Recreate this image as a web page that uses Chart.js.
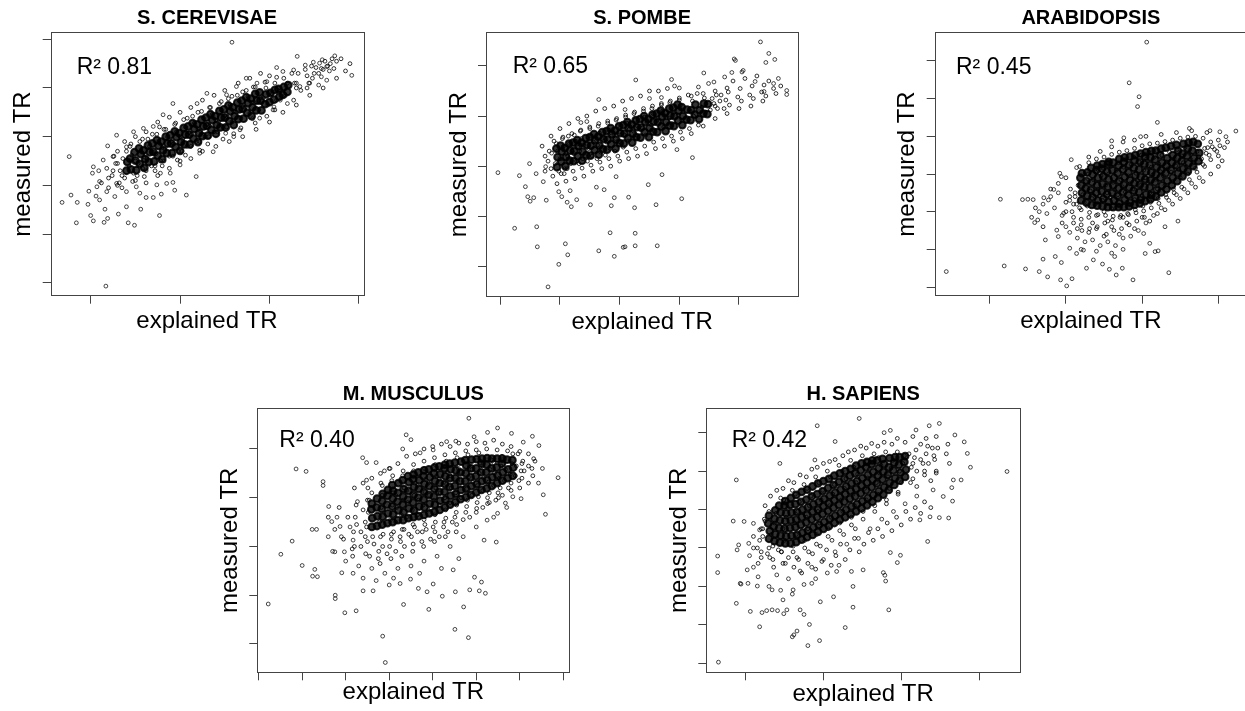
<!DOCTYPE html>
<html>
<head>
<meta charset="utf-8">
<script src="https://cdn.jsdelivr.net/npm/chart.js@4.4.1/dist/chart.umd.min.js"></script>
<style>
html,body{margin:0;padding:0;background:#fff;width:1245px;height:711px;overflow:hidden;position:relative}
canvas{position:absolute}
</style>
</head>
<body>
<canvas id="c1"></canvas>
<canvas id="c2"></canvas>
<canvas id="c3"></canvas>
<canvas id="c4"></canvas>
<canvas id="c5"></canvas>
<script>
const FONT = '"Liberation Sans", Arial, Helvetica, sans-serif';

// ---- panel titles and R² labels ----
const panelTitles = ['S. CEREVISAE', 'S. POMBE', 'ARABIDOPSIS', 'M. MUSCULUS', 'H. SAPIENS'];
const r2Labels = ['R² 0.81', 'R² 0.65', 'R² 0.45', 'R² 0.40', 'R² 0.42'];
const xAxisTitle = 'explained TR';
const yAxisTitle = 'measured TR';

// ---- tick values (unlabelled ticks, in tick units) ----
const cerevisaeXTicks = [0, 1, 2, 3];
const cerevisaeYTicks = [0, 1, 2, 3, 4, 5];
const pombeXTicks = [0, 1, 2, 3, 4];
const pombeYTicks = [0, 1, 2, 3, 4];
const arabidopsisXTicks = [0, 1, 2, 3];
const arabidopsisYTicks = [0, 1, 2, 3, 4, 5, 6];
const musculusXTicks = [0, 1, 2, 3, 4, 5, 6, 7];
const musculusYTicks = [0, 1, 2, 3, 4];
const sapiensXTicks = [0, 1, 2, 3];
const sapiensYTicks = [0, 1, 2, 3, 4, 5, 6];

// ---- S. CEREVISAE points [explained, measured] ----
const cerevisaeDense = [
[0.40,2.30],[0.41,2.48],[0.45,2.33],[0.44,2.55],[0.51,2.31],[0.50,2.51],[0.49,2.68],[0.55,2.44],[0.56,2.64],[0.54,2.76],
[0.60,2.36],[0.61,2.54],[0.59,2.72],[0.65,2.48],[0.66,2.68],[0.64,2.82],[0.71,2.49],[0.70,2.69],[0.69,2.86],[0.75,2.61],
[0.76,2.81],[0.74,2.93],[0.80,2.54],[0.81,2.72],[0.79,2.90],[0.85,2.66],[0.86,2.86],[0.84,3.00],[0.91,2.66],[0.90,2.86],
[0.89,3.03],[0.95,2.79],[0.96,2.99],[0.94,3.11],[1.00,2.71],[1.01,2.89],[0.99,3.07],[1.05,2.84],[1.06,3.04],[1.04,3.18],
[1.11,2.84],[1.10,3.04],[1.09,3.21],[1.15,2.96],[1.16,3.16],[1.14,3.28],[1.20,2.89],[1.21,3.07],[1.19,3.25],[1.25,3.01],
[1.26,3.21],[1.24,3.35],[1.31,3.02],[1.30,3.22],[1.29,3.39],[1.35,3.14],[1.36,3.34],[1.34,3.46],[1.40,3.06],[1.41,3.24],
[1.39,3.42],[1.45,3.19],[1.46,3.39],[1.44,3.53],[1.51,3.19],[1.50,3.39],[1.49,3.56],[1.55,3.32],[1.56,3.52],[1.54,3.64],
[1.60,3.24],[1.61,3.42],[1.59,3.60],[1.65,3.36],[1.66,3.56],[1.64,3.70],[1.71,3.37],[1.70,3.57],[1.69,3.74],[1.75,3.49],
[1.76,3.69],[1.74,3.81],[1.80,3.42],[1.81,3.60],[1.79,3.78],[1.85,3.54],[1.86,3.74],[1.84,3.88],[1.91,3.54],[1.90,3.74],
[1.89,3.91],[1.95,3.67],[1.96,3.87],[2.00,3.71],[2.01,3.90],[2.05,3.76],[2.06,3.96],[2.11,3.82],[2.10,3.98],[2.15,3.86],
[2.16,4.02],[2.20,3.92],[2.21,4.06]
];
const cerevisaeCore = [
[0.12,2.05],[0.18,2.35],[0.2,1.95],[0.24,2.2],[0.28,2.45],[0.3,2.0],[0.26,2.6],[0.33,2.3],[0.36,2.55],[0.38,2.15],[0.4,2.7],
[0.43,2.4],[0.46,2.62],[0.48,2.25],[0.44,2.8],[0.5,2.5],[0.53,2.45],[0.56,2.7],[0.58,2.35],[0.55,2.9],[0.6,2.58],[0.52,2.2],
[0.63,2.55],[0.66,2.8],[0.68,2.4],[0.64,2.95],[0.7,2.68],[0.62,2.3],[0.73,2.65],[0.76,2.9],[0.78,2.5],[0.74,3.05],[0.8,2.78],[0.72,2.4],[0.77,3.2],
[0.83,2.75],[0.86,3.0],[0.88,2.6],[0.84,3.15],[0.9,2.9],[0.82,2.5],[0.93,2.85],[0.96,3.1],[0.98,2.7],[0.94,3.25],[1.0,3.0],[0.92,2.6],
[1.03,2.95],[1.06,3.2],[1.08,2.8],[1.04,3.35],[1.1,3.08],[1.02,2.7],[1.13,3.05],[1.16,3.28],[1.18,2.9],[1.14,3.42],[1.2,3.15],[1.12,2.8],
[1.23,3.12],[1.26,3.38],[1.28,3.0],[1.24,3.52],[1.3,3.25],[1.22,2.9],[1.33,3.22],[1.36,3.46],[1.38,3.1],[1.34,3.6],[1.4,3.34],[1.32,3.0],
[1.43,3.3],[1.46,3.55],[1.48,3.2],[1.44,3.68],[1.5,3.43],[1.42,3.1],[1.53,3.4],[1.56,3.65],[1.58,3.3],[1.54,3.78],[1.6,3.52],[1.52,3.2],
[1.63,3.5],[1.66,3.74],[1.68,3.38],[1.64,3.85],[1.7,3.62],[1.73,3.6],[1.76,3.82],[1.78,3.48],[1.74,3.95],[1.8,3.7],
[1.83,3.7],[1.86,3.9],[1.88,3.55],[1.84,4.02],[1.9,3.8],[1.93,3.8],[1.96,4.0],[1.98,3.65],[2.0,3.9],
[2.03,3.88],[2.06,4.1],[2.08,3.75],[2.1,4.0],[2.13,3.95],[2.16,4.2],[2.18,3.85],[2.2,4.1],[2.28,4.1],[2.32,4.3],[2.3,4.0],
[2.42,4.25],[2.47,4.45],[2.5,4.3],[2.44,4.1],[2.58,4.4],[2.62,4.55],[2.65,4.45],[2.7,4.6],[2.72,4.4],
[0.45,2.85],[0.47,2.08],[0.58,2.95],[0.6,2.18],[0.69,3.05],[0.72,2.3],[0.82,3.15],[0.8,2.4],[0.95,3.28],[0.97,2.52],
[1.08,3.38],[1.06,2.62],[1.2,3.5],[1.22,2.72],[1.33,3.6],[1.31,2.85],[1.46,3.72],[1.48,2.95],[1.58,3.83],[1.6,3.06],
[1.7,3.92],[1.68,3.18],[1.82,4.02],[1.84,3.28],[1.95,4.12],[1.97,3.42],[2.08,4.22],[2.06,3.55],[2.25,4.3],[2.27,3.75],
[2.3,4.1],[2.35,3.95],[2.4,4.38],[2.42,4.0],[2.48,4.2],[2.55,4.3],[2.6,4.38],[2.68,4.5],[2.75,4.55],[2.52,4.42],
[0.25,2.3],[0.3,2.45],[0.35,2.2],[0.2,2.15],[0.32,2.05]
];
const cerevisaeMid = [
[0.3,2.7],[0.38,2.9],[0.5,3.0],[0.62,3.1],[0.75,3.3],[0.88,3.4],[1.0,3.5],[1.12,3.6],[1.25,3.75],[1.38,3.85],[1.5,3.95],
[1.65,4.1],[1.78,4.2],[1.9,4.3],[2.0,4.25],[0.35,1.95],[0.5,2.1],[0.62,2.05],[0.75,2.2],[0.88,2.35],[1.0,2.5],[1.12,2.55],
[1.25,2.7],[1.4,2.8],[1.55,2.9],[1.7,3.0],[1.85,3.15],[2.0,3.3],[2.15,3.5],[2.3,3.65],[2.45,3.85],[2.6,4.0],[2.75,4.2],
[2.85,4.35],[2.8,4.6],[2.9,4.5]
];
const cerevisaeOut = [
[1.58,4.94],[0.17,-0.07],[-0.24,2.59],[-0.32,1.65],[-0.22,1.80],[-0.15,1.65],[-0.16,1.23],[-0.03,1.61],[-0.02,1.88],[0.0,1.38],
[0.03,1.27],[0.15,1.24],[0.19,1.32],[0.16,1.51],[0.31,1.41],[0.42,1.23],[0.49,1.18],[0.40,1.56],[0.56,1.51],[0.77,1.38],
[0.06,1.78],[0.62,1.75],[0.70,1.75],[0.79,1.82],[0.94,1.90],[1.07,1.80],[1.00,2.42],[1.18,2.18],[0.92,2.06],[0.02,2.25],
[0.09,2.30],[0.10,2.08],[2.92,4.26],[2.73,4.66],[2.31,4.65],[2.67,4.35],[2.64,4.16],[2.55,4.06],[2.05,3.61],[2.20,3.68],
[1.81,3.37],[1.51,3.07],[0.29,3.03],[0.19,2.81],[2.08,4.42],[2.49,4.53],[2.59,4.58],
[0.07,1.97],[0.18,1.87],[0.29,2.04],[0.40,1.87],[0.51,1.97],[0.27,1.77],[0.10,1.70],[0.55,1.84],[0.74,2.01],[0.85,2.04],
[0.78,2.25],[0.89,2.25],[1.22,2.66],[1.37,2.69],[1.60,3.0],[1.67,3.14],[1.89,3.38],[2.04,3.55],[2.12,3.75],[2.34,4.03],
[2.45,4.10],[2.58,4.23],[2.64,4.44],[2.56,4.51],[2.40,4.47],[2.27,4.37],[2.15,4.34],[1.97,4.13],[1.86,4.10],[1.74,4.20],
[1.63,4.03],[1.52,3.86],[1.30,3.89],[1.19,3.68],[0.92,3.68],[0.81,3.45],[0.70,3.21],[0.59,3.17],[0.48,3.10],[0.40,2.79],
[0.25,2.59],[0.14,2.52],[0.03,2.38]
];

// ---- S. POMBE points ----
const pombeDense = [
[0.95,1.98],[0.96,2.18],[0.94,2.35],[1.02,2.09],[1.03,2.29],[1.01,2.41],[1.09,2.00],[1.10,2.18],[1.08,2.36],[1.16,2.11],
[1.17,2.31],[1.15,2.45],[1.23,2.10],[1.24,2.30],[1.22,2.47],[1.30,2.20],[1.31,2.40],[1.29,2.52],[1.37,2.11],[1.38,2.29],
[1.36,2.47],[1.44,2.22],[1.45,2.42],[1.43,2.56],[1.51,2.21],[1.52,2.41],[1.50,2.58],[1.58,2.32],[1.59,2.52],[1.57,2.64],
[1.65,2.23],[1.66,2.41],[1.64,2.59],[1.72,2.34],[1.73,2.54],[1.71,2.68],[1.79,2.33],[1.80,2.53],[1.78,2.70],[1.86,2.44],
[1.87,2.64],[1.85,2.76],[1.93,2.35],[1.94,2.53],[1.92,2.71],[2.00,2.46],[2.01,2.66],[1.99,2.80],[2.07,2.45],[2.08,2.65],
[2.06,2.82],[2.14,2.56],[2.15,2.76],[2.13,2.88],[2.21,2.47],[2.22,2.65],[2.20,2.83],[2.28,2.58],[2.29,2.78],[2.27,2.92],
[2.35,2.57],[2.36,2.77],[2.34,2.94],[2.42,2.68],[2.43,2.88],[2.41,3.00],[2.49,2.58],[2.50,2.76],[2.48,2.94],[2.56,2.69],
[2.57,2.89],[2.55,3.03],[2.63,2.68],[2.64,2.88],[2.62,3.05],[2.70,2.79],[2.71,2.99],[2.69,3.11],[2.77,2.70],[2.78,2.88],
[2.76,3.06],[2.84,2.81],[2.85,3.01],[2.83,3.15],[2.91,2.80],[2.92,3.00],[2.90,3.17],[2.98,2.91],[2.99,3.11],[2.97,3.23],
[3.05,2.82],[3.06,3.00],[3.04,3.18],[3.12,2.93],[3.13,3.13],[3.19,2.92],[3.20,3.12],[3.26,3.03],[3.27,3.23],[3.33,2.94],
[3.34,3.12],[3.40,3.05],[3.41,3.25],[3.47,3.04],[3.48,3.24]
];
const pombeCore = [
[0.92,2.05],[0.96,2.3],[0.98,1.9],[0.94,2.45],[1.0,2.15],[1.03,2.15],[1.06,2.4],[1.08,1.95],[1.04,2.55],[1.1,2.25],[1.02,1.85],
[1.13,2.2],[1.16,2.45],[1.18,2.05],[1.14,2.6],[1.2,2.3],[1.12,1.95],[1.23,2.25],[1.26,2.5],[1.28,2.1],[1.24,2.62],[1.3,2.38],
[1.33,2.3],[1.36,2.55],[1.38,2.15],[1.34,2.7],[1.4,2.42],[1.32,2.05],[1.48,2.35],[1.52,2.6],[1.54,2.2],[1.5,2.75],[1.56,2.48],[1.46,2.1],
[1.63,2.42],[1.66,2.66],[1.68,2.28],[1.64,2.8],[1.7,2.55],[1.62,2.15],[1.78,2.48],[1.82,2.72],[1.84,2.35],[1.8,2.86],[1.86,2.6],[1.76,2.22],
[1.93,2.55],[1.96,2.8],[1.98,2.42],[1.94,2.92],[2.0,2.68],[1.92,2.3],[2.08,2.62],[2.12,2.86],[2.14,2.5],[2.1,2.98],[2.16,2.74],[2.06,2.38],
[2.23,2.7],[2.26,2.92],[2.28,2.56],[2.24,3.05],[2.3,2.8],[2.38,2.76],[2.42,2.98],[2.44,2.62],[2.4,3.1],[2.46,2.88],
[2.53,2.82],[2.56,3.05],[2.58,2.7],[2.54,3.15],[2.6,2.94],[2.68,2.9],[2.72,3.1],[2.74,2.78],[2.7,3.22],[2.76,3.0],
[2.83,2.96],[2.86,3.16],[2.88,2.85],[2.84,3.27],[2.9,3.06],[2.98,3.02],[3.02,3.22],[3.04,2.92],[3.0,3.32],[3.06,3.12],
[3.18,3.1],[3.22,3.3],[3.24,3.0],[3.2,3.4],[3.38,3.18],[3.42,3.36],[3.44,3.08],[3.4,3.45],[3.58,3.25],[3.62,3.42],[3.64,3.15],[3.6,3.5],
[3.78,3.32],[3.82,3.48],[3.84,3.22],[3.8,3.56],[3.98,3.38],[4.02,3.55],[4.04,3.3],[4.18,3.42],[4.22,3.6],[4.24,3.35],
[4.38,3.48],[4.42,3.62],[4.45,3.4],[4.58,3.55],[4.62,3.45],
[0.9,2.5],[0.88,1.8],[1.05,2.58],[1.07,1.85],[1.2,2.65],[1.22,1.9],[1.35,2.72],[1.37,1.96],[1.5,2.78],[1.52,2.02],
[1.65,2.85],[1.67,2.08],[1.8,2.9],[1.82,2.15],[1.95,2.95],[1.97,2.2],[2.1,3.02],[2.12,2.28],[2.25,3.08],[2.27,2.35],
[2.4,3.15],[2.42,2.4],[2.55,3.2],[2.57,2.48],[2.7,3.25],[2.72,2.55],[2.85,3.3],[2.87,2.6],[3.0,3.36],[3.02,2.68],
[3.15,3.42],[3.17,2.75],[3.3,3.45],[3.32,2.82],[3.52,3.12],[3.55,3.35],[3.6,3.2],[3.68,3.3],[3.75,3.15],[3.7,3.42],
[0.8,2.1],[0.85,1.95],[0.82,2.3],[0.75,2.2]
];
const pombeMid = [
[0.7,2.4],[0.75,1.9],[0.85,2.6],[1.0,2.75],[1.15,2.85],[1.3,2.95],[1.45,3.0],[1.6,3.1],[1.75,3.15],[1.9,3.2],[2.05,3.3],
[2.2,3.35],[2.35,3.4],[2.5,3.5],[2.65,3.5],[2.8,3.55],[0.95,1.65],[1.1,1.7],[1.25,1.75],[1.4,1.8],[1.55,1.9],[1.7,1.95],
[1.85,2.0],[2.0,2.1],[2.15,2.15],[2.3,2.2],[2.45,2.25],[2.6,2.35],[2.75,2.4],[2.9,2.5],[3.05,2.55],[3.2,2.65],[3.4,2.8],
[3.6,2.95],[3.8,3.05],[4.0,3.15],[4.2,3.2],[4.4,3.3],[3.9,3.7],[4.1,3.75],[4.3,3.8],[4.5,3.7],[4.7,3.6]
];
const pombeOut = [
[4.36,4.48],[4.5,4.25],[4.45,4.07],[4.6,4.13],[3.92,4.14],[3.94,4.11],[3.41,3.86],[2.87,3.73],[2.27,3.72],[1.65,3.33],
[4.66,3.75],[4.58,3.65],[4.8,3.51],[4.8,3.43],[4.42,3.49],[3.76,3.78],[3.49,3.65],[3.22,2.17],[2.96,2.33],[2.71,1.83],
[-0.04,1.87],[0.32,1.81],[0.49,2.05],[0.42,1.59],[0.46,1.39],[0.5,1.3],[0.56,1.37],[0.6,1.85],[0.77,1.32],[0.24,0.76],
[0.61,0.79],[0.62,0.39],[0.98,0.04],[1.09,0.45],[1.13,0.23],[0.8,-0.41],[1.65,0.31],[1.84,0.67],[1.91,0.2],[2.06,0.38],
[2.09,0.39],[2.26,0.66],[2.26,0.41],[2.63,0.41],[2.61,1.23],[2.25,1.17],[1.86,1.21],[1.51,1.23],[1.19,1.19],[1.12,1.28],
[1.28,1.33],[2.15,1.38],[1.74,1.53],[1.91,1.37],[3.04,1.35],[1.61,1.58],[1.94,1.79],[2.48,1.63],[0.98,1.49],[1.03,1.39],
[1.17,1.51],[0.72,1.69],[0.76,1.99],[0.86,2.26],[1.35,2.87],[1.45,2.89],[2.09,3.13],[2.5,3.35],[2.7,3.37],[2.92,3.6],
[3.0,3.56],[3.32,3.58],[3.58,3.68],[4.05,3.88],[4.07,3.91],[4.27,3.69],[3.88,3.87]
];

// ---- ARABIDOPSIS points ----
const arabidopsisDense = [
[1.20,2.30],[1.21,2.50],[1.20,2.70],[1.19,2.90],[1.21,3.02],[1.27,2.24],[1.28,2.42],[1.26,2.62],[1.27,2.82],[1.28,3.04],
[1.34,2.18],[1.35,2.38],[1.33,2.58],[1.34,2.78],[1.35,2.98],[1.33,3.16],[1.41,2.16],[1.42,2.30],[1.40,2.50],[1.41,2.70],
[1.42,2.90],[1.40,3.10],[1.41,3.22],[1.48,2.14],[1.49,2.34],[1.47,2.54],[1.48,2.74],[1.49,2.94],[1.47,3.14],[1.48,3.26],
[1.55,2.12],[1.56,2.26],[1.54,2.46],[1.55,2.66],[1.56,2.86],[1.54,3.06],[1.55,3.26],[1.56,3.32],[1.62,2.12],[1.63,2.30],
[1.61,2.50],[1.62,2.70],[1.63,2.90],[1.61,3.10],[1.62,3.30],[1.69,2.12],[1.70,2.22],[1.68,2.42],[1.69,2.62],[1.70,2.82],
[1.68,3.02],[1.69,3.22],[1.70,3.40],[1.76,2.12],[1.77,2.32],[1.75,2.52],[1.76,2.72],[1.77,2.92],[1.75,3.12],[1.76,3.32],
[1.77,3.44],[1.83,2.14],[1.84,2.24],[1.82,2.44],[1.83,2.64],[1.84,2.84],[1.82,3.04],[1.83,3.24],[1.84,3.46],[1.90,2.18],
[1.91,2.36],[1.89,2.56],[1.90,2.76],[1.91,2.96],[1.89,3.16],[1.90,3.36],[1.91,3.50],[1.97,2.22],[1.98,2.32],[1.96,2.52],
[1.97,2.72],[1.98,2.92],[1.96,3.12],[1.97,3.32],[1.98,3.54],[2.04,2.28],[2.05,2.46],[2.03,2.66],[2.04,2.86],[2.05,3.06],
[2.03,3.26],[2.04,3.46],[2.05,3.58],[2.11,2.33],[2.12,2.44],[2.10,2.64],[2.11,2.84],[2.12,3.04],[2.10,3.24],[2.11,3.44],
[2.12,3.61],[2.18,2.40],[2.19,2.58],[2.17,2.78],[2.18,2.98],[2.19,3.18],[2.17,3.38],[2.18,3.62],[2.25,2.51],[2.26,2.70],
[2.24,2.90],[2.25,3.10],[2.26,3.30],[2.24,3.50],[2.25,3.67],[2.32,2.60],[2.33,2.82],[2.31,3.02],[2.32,3.22],[2.33,3.42],
[2.31,3.70],[2.39,2.70],[2.40,2.90],[2.38,3.10],[2.39,3.30],[2.40,3.50],[2.38,3.74],[2.46,2.81],[2.47,3.02],[2.45,3.22],
[2.46,3.42],[2.47,3.62],[2.45,3.77],[2.53,2.94],[2.54,3.14],[2.52,3.34],[2.53,3.54],[2.54,3.80],[2.60,3.07],[2.61,3.28],
[2.59,3.48],[2.60,3.68],[2.61,3.83],[2.67,3.21],[2.68,3.42],[2.66,3.62],[2.67,3.85],[2.74,3.34],[2.75,3.56],[2.73,3.80]
];
const arabidopsisCore = [
[1.08,2.0],[1.12,2.4],[1.1,1.7],[1.14,2.2],[1.06,2.6],[1.18,2.1],[1.22,2.45],[1.2,1.8],[1.24,2.25],[1.16,2.7],[1.21,1.5],
[1.28,2.15],[1.32,2.55],[1.3,1.85],[1.34,2.35],[1.26,2.8],[1.31,1.55],[1.29,3.0],[1.38,2.2],[1.42,2.6],[1.4,1.9],[1.44,2.42],[1.36,2.85],[1.41,1.6],[1.39,3.05],
[1.48,2.3],[1.52,2.7],[1.5,2.0],[1.54,2.5],[1.46,2.95],[1.51,1.7],[1.49,3.15],[1.53,1.4],[1.58,2.38],[1.62,2.78],[1.6,2.08],[1.64,2.58],[1.56,3.0],[1.61,1.78],[1.59,3.2],[1.63,1.5],
[1.68,2.45],[1.72,2.85],[1.7,2.15],[1.74,2.66],[1.66,3.1],[1.71,1.85],[1.69,3.3],[1.73,1.55],[1.78,2.52],[1.82,2.95],[1.8,2.25],[1.84,2.74],[1.76,3.18],[1.81,1.95],[1.79,3.38],[1.83,1.65],
[1.88,2.6],[1.92,3.02],[1.9,2.32],[1.94,2.82],[1.86,3.25],[1.91,2.05],[1.89,3.45],[1.93,1.75],[1.98,2.7],[2.02,3.1],[2.0,2.42],[2.04,2.9],[1.96,3.32],[2.01,2.15],[1.99,3.5],[2.03,1.85],
[2.08,2.78],[2.12,3.18],[2.1,2.5],[2.14,2.98],[2.06,3.4],[2.11,2.25],[2.09,3.58],[2.18,2.86],[2.22,3.26],[2.2,2.6],[2.24,3.06],[2.16,3.45],[2.21,2.35],[2.19,3.62],
[2.28,2.95],[2.32,3.32],[2.3,2.7],[2.34,3.14],[2.26,3.5],[2.31,2.45],[2.38,3.05],[2.42,3.4],[2.4,2.8],[2.44,3.22],[2.36,3.58],[2.41,2.6],
[2.48,3.12],[2.52,3.48],[2.5,2.9],[2.54,3.3],[2.46,3.65],[2.58,3.2],[2.62,3.55],[2.6,3.0],[2.64,3.38],[2.56,3.7],
[2.68,3.3],[2.72,3.6],[2.7,3.15],[2.74,3.46],[2.78,3.4],[2.82,3.68],[2.8,3.25],[2.84,3.55],[2.88,3.5],[2.92,3.72],[2.9,3.38],
[2.98,3.6],[3.02,3.75],[3.0,3.48],[3.08,3.7],[3.12,3.85],
[1.18,3.2],[1.2,2.05],[1.3,3.3],[1.31,1.98],[1.4,3.4],[1.42,1.92],[1.5,3.45],[1.52,1.9],[1.6,3.52],[1.62,1.88],
[1.7,3.58],[1.72,1.9],[1.8,3.62],[1.82,1.92],[1.9,3.68],[1.92,1.97],[2.0,3.75],[2.02,2.02],[2.1,3.8],[2.12,2.1],
[2.2,3.82],[2.22,2.22],[2.3,3.86],[2.32,2.38],[2.4,3.9],[2.42,2.5],[2.5,3.95],[2.52,2.65],[2.6,3.98],[2.62,2.85],
[2.7,4.0],[2.72,3.05],[2.8,3.95],[2.82,3.2],[2.86,3.7],[2.9,3.85],[2.95,3.65],[3.0,3.9],
[1.1,2.2],[1.12,2.5],[1.05,2.4],[1.0,2.25]
];
const arabidopsisMid = [
[0.8,2.6],[0.9,2.75],[1.0,2.9],[1.0,2.0],[1.1,1.85],[1.2,1.65],[1.3,1.45],[1.4,1.55],[1.5,1.35],[1.6,1.6],[1.7,1.4],
[1.8,1.7],[1.9,1.55],[2.0,1.85],[2.1,1.75],[2.2,1.95],[2.3,2.05],[2.4,2.2],[2.5,2.35],[2.6,2.5],[2.7,2.65],[2.8,2.8],
[2.9,3.0],[3.0,3.2],[3.05,3.35],[1.3,3.45],[1.45,3.6],[1.6,3.72],[1.75,3.85],[1.9,3.9],[2.05,4.0],[2.25,4.05],[2.45,4.1],
[2.65,4.15],[2.85,4.1],[0.95,1.7],[1.15,1.55],[1.35,1.7],[1.55,1.75],[1.75,1.85],[0.7,1.6],[0.6,2.1],[0.55,1.85]
];
const arabidopsisOut = [
[2.06,6.5],[1.83,5.42],[1.96,5.05],[1.94,4.79],[-0.57,0.41],[0.14,2.33],[0.19,0.56],[0.43,2.32],[0.5,2.33],[0.57,2.32],
[0.71,2.37],[0.47,0.48],[0.65,0.41],[0.76,0.27],[0.93,0.19],[1.01,0.03],[1.08,0.22],[0.7,0.74],[0.86,0.81],[0.94,0.65],
[1.27,0.5],[1.48,0.61],[1.57,0.47],[1.66,0.32],[1.74,0.5],[1.88,0.19],[2.35,0.38],[2.04,0.89],[2.17,0.94],[2.21,0.96],
[2.47,1.75],[3.23,4.14],[3.1,3.99],[3.02,4.12],[2.89,4.15],[2.62,4.21],[2.2,4.37],[1.76,3.96],[1.6,3.88],[1.98,3.99],
[1.14,3.17],[1.07,3.38],[0.92,3.02],[0.94,2.93],[0.84,2.59],[0.63,1.78],[0.59,1.71],[0.73,1.25],[0.9,1.34],[1.05,1.03],
[1.14,0.89],[1.23,0.98],[1.36,0.72],[1.64,0.81],[1.75,1.0],[2.1,1.16],[2.02,1.42],[2.3,1.6],[0.77,2.31],[0.97,1.96],[0.88,1.51],
[0.85,2.1],[0.95,1.9],[0.9,2.5],[1.0,1.6],[1.05,2.3],[0.8,2.4],[0.75,1.95],[1.15,1.3],[1.25,1.2],[1.35,1.25],[1.45,1.1],
[1.55,1.2],[1.65,1.1],[1.75,1.3],[1.85,1.35],[1.95,1.5],[2.05,1.7],[2.15,1.9],[2.25,2.1],[2.35,2.3],[2.45,2.45],[2.55,2.6],
[2.65,2.75],[2.75,2.9],[0.7,2.2],[0.65,2.0],[1.05,1.45],[1.2,1.0],[1.4,0.95],[1.6,0.9]
];

// ---- M. MUSCULUS points ----
const musculusDense = [
[2.60,2.40],[2.61,2.58],[2.59,2.76],[2.60,2.88],[2.72,2.42],[2.73,2.62],[2.71,2.80],[2.72,2.98],[2.84,2.45],[2.85,2.61],
[2.83,2.77],[2.84,2.93],[2.85,3.08],[2.96,2.48],[2.97,2.68],[2.95,2.86],[2.96,3.04],[2.97,3.16],[3.08,2.50],[3.09,2.66],
[3.07,2.82],[3.08,2.98],[3.09,3.14],[3.07,3.26],[3.20,2.54],[3.21,2.74],[3.19,2.92],[3.20,3.10],[3.21,3.30],[3.32,2.54],
[3.33,2.70],[3.31,2.86],[3.32,3.02],[3.33,3.18],[3.31,3.36],[3.44,2.58],[3.45,2.78],[3.43,2.96],[3.44,3.14],[3.45,3.32],
[3.43,3.44],[3.56,2.60],[3.57,2.74],[3.55,2.90],[3.56,3.06],[3.57,3.22],[3.55,3.38],[3.56,3.48],[3.68,2.62],[3.69,2.82],
[3.67,3.00],[3.68,3.18],[3.69,3.36],[3.67,3.52],[3.80,2.65],[3.81,2.80],[3.79,2.96],[3.80,3.12],[3.81,3.28],[3.79,3.44],
[3.80,3.56],[3.92,2.68],[3.93,2.88],[3.91,3.06],[3.92,3.24],[3.93,3.42],[3.91,3.58],[4.04,2.71],[4.05,2.86],[4.03,3.02],
[4.04,3.18],[4.05,3.34],[4.03,3.50],[4.04,3.62],[4.16,2.75],[4.17,2.94],[4.15,3.12],[4.16,3.30],[4.17,3.48],[4.15,3.64],
[4.28,2.80],[4.29,2.96],[4.27,3.12],[4.28,3.28],[4.29,3.44],[4.27,3.60],[4.28,3.68],[4.40,2.86],[4.41,3.04],[4.39,3.22],
[4.40,3.40],[4.41,3.58],[4.39,3.70],[4.52,2.91],[4.53,3.08],[4.51,3.24],[4.52,3.40],[4.53,3.56],[4.51,3.72],[4.64,2.97],
[4.65,3.16],[4.63,3.34],[4.64,3.52],[4.65,3.74],[4.76,3.01],[4.77,3.18],[4.75,3.34],[4.76,3.50],[4.77,3.66],[4.75,3.77],
[4.88,3.06],[4.89,3.24],[4.87,3.42],[4.88,3.60],[4.89,3.78],[5.00,3.11],[5.01,3.28],[4.99,3.44],[5.00,3.60],[5.01,3.79],
[5.12,3.16],[5.13,3.34],[5.11,3.52],[5.12,3.70],[5.13,3.80],[5.24,3.19],[5.25,3.36],[5.23,3.52],[5.24,3.68],[5.25,3.81],
[5.36,3.24],[5.37,3.42],[5.35,3.60],[5.36,3.80],[5.48,3.30],[5.49,3.46],[5.47,3.62],[5.48,3.80],[5.60,3.35],[5.61,3.52],
[5.59,3.70],[5.60,3.80],[5.72,3.40],[5.73,3.58],[5.71,3.78],[5.84,3.45],[5.85,3.62],[5.83,3.77]
];
const musculusCore = [
[2.18,2.3],[2.22,2.6],[2.2,2.0],[2.24,2.85],[2.16,1.8],[2.48,2.4],[2.52,2.7],[2.5,2.1],[2.54,2.95],[2.46,1.85],[2.51,3.2],
[2.78,2.5],[2.82,2.8],[2.8,2.2],[2.84,3.05],[2.76,1.9],[2.81,3.3],[2.79,1.65],[3.03,2.55],[3.07,2.85],[3.05,2.25],[3.09,3.1],[3.01,2.0],[3.06,3.35],[3.04,1.75],
[3.28,2.65],[3.32,2.95],[3.3,2.35],[3.34,3.2],[3.26,2.1],[3.31,3.45],[3.29,1.8],[3.53,2.75],[3.57,3.05],[3.55,2.45],[3.59,3.3],[3.51,2.2],[3.56,3.55],[3.54,1.9],
[3.78,2.85],[3.82,3.12],[3.8,2.55],[3.84,3.38],[3.76,2.3],[3.81,3.6],[3.79,2.0],[4.03,2.95],[4.07,3.2],[4.05,2.65],[4.09,3.45],[4.01,2.4],[4.06,3.68],[4.04,2.1],
[4.28,3.0],[4.32,3.28],[4.3,2.75],[4.34,3.52],[4.26,2.5],[4.31,3.75],[4.29,2.2],[4.53,3.1],[4.57,3.35],[4.55,2.85],[4.59,3.6],[4.51,2.6],[4.56,3.82],[4.54,2.3],
[4.78,3.18],[4.82,3.42],[4.8,2.95],[4.84,3.66],[4.76,2.7],[4.81,3.88],[5.03,3.25],[5.07,3.5],[5.05,3.02],[5.09,3.72],[5.01,2.78],[5.06,3.92],
[5.28,3.32],[5.32,3.58],[5.3,3.1],[5.34,3.78],[5.26,2.88],[5.53,3.4],[5.57,3.65],[5.55,3.2],[5.59,3.85],[5.51,3.0],
[5.78,3.48],[5.82,3.7],[5.8,3.3],[5.84,3.9],[6.03,3.55],[6.07,3.75],[6.05,3.4],[6.28,3.6],[6.32,3.8],[6.3,3.45],
[3.15,2.5],[3.17,2.8],[3.15,3.05],[3.4,2.6],[3.42,2.9],[3.4,3.15],[3.65,2.65],[3.67,2.95],[3.65,3.25],[3.9,2.75],[3.92,3.05],[3.9,3.3],
[4.15,2.85],[4.17,3.1],[4.15,3.38],[4.4,2.9],[4.42,3.2],[4.4,3.45],[4.65,3.0],[4.67,3.25],[4.65,3.52],[4.9,3.05],[4.92,3.32],[4.9,3.58],
[5.15,3.15],[5.17,3.4],[5.15,3.65],[5.4,3.25],[5.42,3.5],[5.4,3.72],[5.65,3.35],[5.67,3.58],[5.9,3.45],[5.92,3.65],
[2.6,3.1],[2.62,2.2],[2.84,3.25],[2.86,2.25],[3.08,3.45],[3.1,2.3],[3.32,3.55],[3.34,2.35],[3.56,3.68],[3.58,2.4],
[3.8,3.75],[3.82,2.45],[4.04,3.82],[4.06,2.5],[4.28,3.88],[4.3,2.58],[4.52,3.92],[4.54,2.7],[4.76,3.96],[4.78,2.82],
[5.0,3.98],[5.02,2.9],[5.24,4.0],[5.26,3.0],[5.48,3.98],[5.5,3.1],[5.72,3.96],[5.74,3.2],[5.96,3.9],[5.98,3.35],
[6.05,3.7],[6.1,3.55],[6.2,3.65],[2.45,2.5],[2.4,2.75],[2.35,2.3],[2.5,2.95]
];
const musculusMid = [
[1.6,2.6],[1.75,2.35],[1.85,2.8],[1.95,2.15],[2.05,2.6],[2.15,1.95],[2.25,2.45],[2.35,2.0],[2.45,2.2],[2.55,1.8],[2.65,2.05],
[2.75,1.75],[2.85,2.0],[2.95,1.85],[3.05,2.15],[3.15,1.9],[3.25,2.2],[3.35,2.0],[3.45,2.25],[3.55,2.05],[3.65,2.3],[3.75,2.1],
[3.85,2.35],[3.95,2.15],[4.05,2.3],[4.15,2.2],[4.25,2.4],[4.35,2.3],[4.45,2.5],[4.55,2.45],[4.7,2.55],[4.85,2.6],[5.0,2.7],
[5.15,2.8],[5.3,2.9],[5.45,2.95],[5.6,3.05],[5.8,3.15],[6.0,3.2],[6.2,3.3],
[2.2,3.2],[2.4,3.3],[2.6,3.4],[2.8,3.5],[3.0,3.6],[3.2,3.7],[3.4,3.85],[3.6,3.9],[3.8,4.0],[4.0,4.05],[4.2,4.1],[4.4,4.05],
[4.6,4.12],[4.8,4.1],[5.0,4.15],[5.2,4.12],[5.4,4.18],[5.6,4.1],[5.8,4.05],[6.0,3.95],[6.2,3.9],[6.35,3.75]
];
const musculusOut = [
[4.83,4.63],[0.22,0.82],[0.86,3.59],[1.09,3.54],[0.77,2.11],[0.51,1.84],[1.0,1.61],[1.48,3.33],[1.48,3.25],[1.61,2.82],
[1.23,2.35],[1.33,2.35],[1.24,1.39],[1.35,1.38],[1.29,1.53],[1.76,1.0],[1.76,0.93],[1.98,0.64],[2.24,0.68],[1.91,1.46],
[2.39,3.82],[2.48,3.72],[2.7,3.72],[2.89,3.55],[3.39,4.29],[3.5,4.19],[3.31,4.0],[2.85,0.16],[2.91,-0.38],[3.33,0.81],
[3.91,0.71],[4.22,0.98],[4.51,0.3],[4.82,0.13],[4.71,0.76],[4.52,1.07],[4.85,1.11],[5.07,1.09],[5.21,1.04],[4.96,1.37],
[5.12,1.27],[5.46,2.09],[6.88,3.41],[6.54,3.06],[6.59,2.66],[6.44,4.07],[6.29,4.26],[6.08,4.14],[5.49,4.43],[5.26,4.34],
[4.95,4.25],[4.53,4.16],[6.52,3.6],[6.43,3.3],[5.84,3.02],[6.03,2.98],[5.67,2.89],[5.49,2.68],[5.25,2.54],[5.18,2.13],
[4.47,1.52],[4.01,1.23],[3.87,1.07],[3.67,1.14],[3.49,1.33],[3.25,1.24],[3.0,1.21],[2.63,1.09],[2.4,1.09],[2.17,1.45],
[1.97,1.89],[1.75,1.89],[2.17,2.13],[1.68,2.51],[1.87,2.41],[2.27,2.92],[2.48,3.36],[3.02,3.6],[3.71,3.92],[4.01,3.98],
[4.32,4.15],[5.81,4.32],
[1.9,2.2],[2.0,1.7],[1.8,2.6],[2.1,2.4],[2.3,1.6],[2.6,1.55],[2.9,1.45],[3.2,1.55],[3.5,1.6],[3.8,1.7],[4.1,1.8],[4.4,2.0],
[4.7,2.2],[5.0,2.4],[1.6,2.2],[1.7,1.9],[2.4,1.35],[2.7,1.3],[3.1,1.35],[3.7,1.45],[4.2,1.55],[4.6,1.75],[5.4,2.6],[5.7,2.8]
];

// ---- H. SAPIENS points ----
const sapiensDense = [
[0.30,3.24],[0.31,3.44],[0.29,3.64],[0.30,3.84],[0.37,3.18],[0.38,3.36],[0.36,3.56],[0.37,3.76],[0.38,3.98],[0.44,3.14],
[0.45,3.32],[0.43,3.52],[0.44,3.72],[0.45,3.92],[0.43,4.10],[0.51,3.12],[0.52,3.30],[0.50,3.50],[0.51,3.70],[0.52,3.90],
[0.50,4.10],[0.51,4.22],[0.58,3.12],[0.59,3.32],[0.57,3.52],[0.58,3.72],[0.59,3.92],[0.57,4.12],[0.58,4.30],[0.65,3.15],
[0.66,3.34],[0.64,3.54],[0.65,3.74],[0.66,3.94],[0.64,4.14],[0.65,4.38],[0.72,3.22],[0.73,3.40],[0.71,3.60],[0.72,3.80],
[0.73,4.00],[0.71,4.20],[0.72,4.46],[0.79,3.28],[0.80,3.46],[0.78,3.66],[0.79,3.86],[0.80,4.06],[0.78,4.26],[0.79,4.52],
[0.86,3.34],[0.87,3.54],[0.85,3.74],[0.86,3.94],[0.87,4.14],[0.85,4.34],[0.86,4.60],[0.93,3.42],[0.94,3.60],[0.92,3.80],
[0.93,4.00],[0.94,4.20],[0.92,4.40],[0.93,4.68],[1.00,3.50],[1.01,3.68],[0.99,3.88],[1.00,4.08],[1.01,4.28],[0.99,4.48],
[1.00,4.74],[1.07,3.57],[1.08,3.76],[1.06,3.96],[1.07,4.16],[1.08,4.36],[1.06,4.56],[1.07,4.80],[1.14,3.65],[1.15,3.84],
[1.13,4.04],[1.14,4.24],[1.15,4.44],[1.13,4.64],[1.14,4.88],[1.21,3.73],[1.22,3.92],[1.20,4.12],[1.21,4.32],[1.22,4.52],
[1.20,4.72],[1.21,4.94],[1.28,3.80],[1.29,4.00],[1.27,4.20],[1.28,4.40],[1.29,4.60],[1.27,4.80],[1.28,5.00],[1.35,3.88],
[1.36,4.08],[1.34,4.28],[1.35,4.48],[1.36,4.68],[1.34,4.88],[1.35,5.06],[1.42,3.95],[1.43,4.14],[1.41,4.34],[1.42,4.54],
[1.43,4.74],[1.41,4.94],[1.42,5.14],[1.49,4.03],[1.50,4.22],[1.48,4.42],[1.49,4.62],[1.50,4.82],[1.48,5.02],[1.49,5.20],
[1.56,4.11],[1.57,4.30],[1.55,4.50],[1.56,4.70],[1.57,4.90],[1.55,5.10],[1.56,5.24],[1.63,4.20],[1.64,4.38],[1.62,4.58],
[1.63,4.78],[1.64,4.98],[1.62,5.18],[1.63,5.28],[1.70,4.30],[1.71,4.48],[1.69,4.68],[1.70,4.88],[1.71,5.08],[1.69,5.28],
[1.77,4.39],[1.78,4.58],[1.76,4.78],[1.77,4.98],[1.78,5.18],[1.76,5.32],[1.84,4.51],[1.85,4.70],[1.83,4.90],[1.84,5.10],
[1.85,5.34],[1.91,4.64],[1.92,4.82],[1.90,5.02],[1.91,5.22],[1.92,5.36],[1.98,4.75],[1.99,4.96],[1.97,5.16],[1.98,5.36],
[2.05,4.85],[2.06,5.04],[2.04,5.24],[2.05,5.39]
];
const sapiensCore = [
[0.18,3.2],[0.22,3.5],[0.2,2.9],[0.24,3.75],[0.16,2.6],[0.33,3.35],[0.37,3.65],[0.35,3.05],[0.39,3.9],[0.31,2.75],[0.36,2.5],
[0.48,3.5],[0.52,3.8],[0.5,3.2],[0.54,4.05],[0.46,2.9],[0.51,2.6],[0.49,4.25],[0.63,3.65],[0.67,3.95],[0.65,3.35],[0.69,4.2],[0.61,3.05],[0.66,2.75],[0.64,4.4],
[0.78,3.8],[0.82,4.1],[0.8,3.5],[0.84,4.35],[0.76,3.2],[0.81,2.9],[0.79,4.55],[0.93,3.95],[0.97,4.25],[0.95,3.65],[0.99,4.5],[0.91,3.35],[0.96,3.05],[0.94,4.7],
[1.08,4.1],[1.12,4.4],[1.1,3.8],[1.14,4.65],[1.06,3.5],[1.11,3.2],[1.09,4.85],[1.23,4.25],[1.27,4.55],[1.25,3.95],[1.29,4.8],[1.21,3.65],[1.26,3.35],[1.24,5.0],
[1.38,4.4],[1.42,4.7],[1.4,4.1],[1.44,4.92],[1.36,3.8],[1.41,3.5],[1.39,5.1],[1.53,4.55],[1.57,4.82],[1.55,4.25],[1.59,5.05],[1.51,3.95],[1.56,5.25],
[1.68,4.7],[1.72,4.95],[1.7,4.4],[1.74,5.15],[1.66,4.1],[1.71,5.35],[1.83,4.85],[1.87,5.08],[1.85,4.55],[1.89,5.28],[1.81,4.25],
[1.98,5.0],[2.02,5.2],[2.0,4.7],[2.04,5.4],[1.96,4.4],[2.13,5.1],[2.17,5.35],[2.15,4.8],[2.19,5.55],[2.28,5.2],[2.32,5.45],[2.3,4.9],[2.34,5.65],
[2.43,5.3],[2.47,5.6],[2.45,5.0],[2.58,5.45],[2.62,5.2],[2.6,5.7],
[0.3,3.95],[0.3,3.0],[0.45,4.3],[0.46,2.9],[0.6,4.5],[0.61,2.9],[0.75,4.65],[0.76,3.0],[0.9,4.85],[0.91,3.1],
[1.05,5.0],[1.06,3.3],[1.2,5.15],[1.21,3.45],[1.35,5.28],[1.36,3.6],[1.5,5.4],[1.51,3.75],[1.65,5.45],[1.66,3.95],
[1.8,5.5],[1.81,4.15],[1.95,5.5],[1.96,4.45],[2.1,5.45],[2.12,4.7],[2.15,5.2],[2.2,5.0],[0.2,3.5],[0.22,3.3],[0.25,3.7]
];
const sapiensMid = [
[0.1,3.3],[0.15,3.0],[0.2,2.75],[0.28,2.85],[0.35,2.7],[0.42,2.95],[0.48,2.6],[0.55,2.75],[0.62,2.5],[0.68,2.7],[0.72,2.35],
[0.8,2.6],[0.86,2.85],[0.9,2.45],[0.98,2.65],[1.04,2.95],[1.1,2.55],[1.16,2.8],[1.22,3.1],[1.28,2.7],[1.34,2.95],[1.4,3.25],
[1.46,2.9],[1.52,3.1],[1.58,3.4],[1.64,3.2],[1.7,3.5],[1.76,3.3],[1.82,3.65],[1.88,3.45],[1.94,3.8],[2.0,3.6],[2.06,3.95],
[2.12,3.75],[2.18,4.05],[2.25,3.9],[2.3,4.2],[2.38,4.05],
[0.25,4.1],[0.32,4.35],[0.4,4.5],[0.48,4.55],[0.55,4.75],[0.62,4.7],[0.7,4.9],[0.78,4.85],[0.85,5.05],[0.92,5.1],[1.0,5.2],
[1.08,5.25],[1.15,5.3],[1.25,5.4],[1.32,5.5],[1.4,5.55],[1.48,5.65],[1.55,5.6],[1.62,5.72],[1.7,5.65],[1.78,5.75],[1.88,5.7],
[1.95,5.85],[2.05,5.75],[2.15,5.9],[2.25,5.7],[2.32,5.85],[2.4,5.6],[2.45,5.9],
[2.25,5.3],[2.35,5.2],[2.42,5.4],[2.3,5.0],[2.38,4.75],[2.45,4.95],[2.2,4.6]
];
const sapiensOut = [
[-0.35,0.03],[-0.36,2.79],[-0.36,2.36],[-0.12,4.77],[-0.16,3.7],[-0.12,1.56],[0.06,1.35],[0.18,0.95],[0.21,1.32],[0.27,1.37],
[0.34,1.39],[0.41,1.37],[0.49,1.29],[0.6,0.69],[0.62,0.74],[0.66,0.84],[0.8,0.46],[0.95,0.59],[0.82,1.01],[1.28,0.93],
[1.38,1.46],[1.84,1.39],[1.77,2.36],[1.79,2.29],[1.8,2.14],[1.86,2.88],[1.99,2.81],[1.95,2.62],[2.34,3.17],[2.61,3.78],
[2.66,4.22],[2.77,4.77],[3.36,4.99],[2.89,5.1],[2.85,5.46],[2.81,5.76],[2.69,5.94],[2.49,6.24],[2.36,6.18],[2.19,6.07],
[1.86,6.06],[1.78,6.0],[1.46,6.37],[1.15,5.77],[0.92,6.18],[0.44,5.2],[0.89,5.29],[2.37,3.81],[2.49,3.79],[2.24,3.73],
[2.67,4.77],[2.54,4.34],[2.65,4.57],[2.41,4.51],[-0.09,3.08],[-0.11,2.95],[0.04,3.12],[-0.02,3.69],[0.1,3.64],[0.18,3.47],
[-0.07,2.08],[-0.06,2.06],[0.03,2.08],[0.15,2.01],[0.02,2.43],[0.16,2.25],[0.34,1.91],[0.48,1.65],[0.53,1.39],[0.7,1.39],
[0.75,1.27],[0.96,1.6],[1.13,1.73],[1.38,2.0],[1.51,2.43],[1.36,2.39],[1.17,2.39],[0.85,2.08],[0.61,1.91],
[0.4,2.3],[0.55,2.2],[0.7,2.4],[0.85,2.5],[1.0,2.7],[1.15,2.9],[1.3,3.1],[1.45,3.25],[1.6,3.5],[1.75,3.75],[1.9,3.95],
[2.05,4.15],[2.2,4.35],[0.3,2.0],[0.45,1.9],[0.6,1.8],[0.75,2.05],[0.9,2.2],[1.05,2.35],[1.2,2.55],[0.1,2.5],[0.05,2.8],[0.1,3.0]
];

// ---- panel setup: plot box in page pixels, axis ranges in tick units ----
const panels = [
  {id:'c1', title:panelTitles[0], r2:r2Labels[0], dense:cerevisaeDense, core:cerevisaeCore.concat(cerevisaeMid), out:cerevisaeOut, xTicks:cerevisaeXTicks, yTicks:cerevisaeYTicks,
   xMin:-0.447, xMax:3.049, yMin:-0.267, yMax:5.144, box:[50.7,32.3,363.3,295.7], lab:[26,41.7], xTitlePad:3.6},
  {id:'c2', title:panelTitles[1], r2:r2Labels[1], dense:pombeDense, core:pombeCore.concat(pombeMid), out:pombeOut, xTicks:pombeXTicks, yTicks:pombeYTicks,
   xMin:-0.24, xMax:4.994, yMin:-0.606, yMax:4.672, box:[486,32.3,798.3,296.7], lab:[26.7,41], xTitlePad:3.6},
  {id:'c3', title:panelTitles[2], r2:r2Labels[2], dense:arabidopsisDense, core:arabidopsisCore.concat(arabidopsisMid), out:arabidopsisOut, xTicks:arabidopsisXTicks, yTicks:arabidopsisYTicks,
   xMin:-0.722, xMax:3.376, yMin:-0.23, yMax:6.761, box:[934.7,32.3,1247,295.7], lab:[21.3,41.7], xTitlePad:3.6},
  {id:'c4', title:panelTitles[3], r2:r2Labels[3], dense:musculusDense, core:musculusCore.concat(musculusMid), out:musculusOut, xTicks:musculusXTicks, yTicks:musculusYTicks,
   xMin:-0.031, xMax:7.138, yMin:-0.581, yMax:4.834, box:[257.3,408.3,569.3,672.3], lab:[22,38.3], xTitlePad:-1.9},
  {id:'c5', title:panelTitles[4], r2:r2Labels[4], dense:sapiensDense, core:sapiensCore.concat(sapiensMid), out:sapiensOut, xTicks:sapiensXTicks, yTicks:sapiensYTicks,
   xMin:-0.506, xMax:3.527, yMin:-0.234, yMax:6.634, box:[706.3,408.3,1020,672.3], lab:[25.4,39], xTitlePad:-0.5}
];

const TICK_LEN = 8;
const AXIS_FONT = 24, AXIS_LH = 1.2;
const TITLE_FONT = 20, TITLE_LH = 1.2, TITLE_PAD_B = 2;
const Y_TITLE_PAD = {top:0, bottom:4.6};
const LINE_COLOR = '#444';
const POINT_COLOR = 'rgba(0,0,0,0.8)';

const boxPlugin = {
  id: 'plotBox',
  afterDatasetsDraw(chart) {
    const {ctx, chartArea:a} = chart;
    ctx.save();
    ctx.strokeStyle = LINE_COLOR;
    ctx.lineWidth = 1;
    ctx.strokeRect(Math.round(a.left)+0.5, Math.round(a.top)+0.5, Math.round(a.right-a.left), Math.round(a.bottom-a.top));
    ctx.restore();
  }
};
const r2Plugin = {
  id: 'r2label',
  afterDraw(chart, args, opts) {
    const {ctx, chartArea:a} = chart;
    ctx.save();
    ctx.fillStyle = '#000';
    ctx.font = '23px ' + FONT;
    ctx.textBaseline = 'alphabetic';
    ctx.textAlign = 'left';
    ctx.fillText(opts.text, a.left + opts.dx, a.top + opts.dy);
    ctx.restore();
  }
};

function toPts(arr) { return arr.map(([x, y]) => ({x, y})); }

panels.forEach(p => {
  const [L, T, R, B] = p.box;
  const cx = Math.round(L - 60), cy = Math.round(T - 40);
  const W = Math.round(R - L + 80), H = Math.round(B - T + 90);
  const canvas = document.getElementById(p.id);
  canvas.width = W; canvas.height = H;
  canvas.style.left = cx + 'px'; canvas.style.top = cy + 'px';
  canvas.style.width = W + 'px'; canvas.style.height = H + 'px';
  const yAxisW = TICK_LEN + AXIS_FONT * AXIS_LH + Y_TITLE_PAD.top + Y_TITLE_PAD.bottom;
  const xAxisH = TICK_LEN + AXIS_FONT * AXIS_LH + p.xTitlePad;
  const titleH = TITLE_FONT * TITLE_LH + TITLE_PAD_B;
  const pad = {
    left: L - cx - yAxisW,
    top: T - cy - titleH,
    right: cx + W - R,
    bottom: cy + H - B - xAxisH
  };
  const gridOpts = {display:true, drawOnChartArea:false, drawTicks:true, tickLength:TICK_LEN, color:LINE_COLOR, tickColor:LINE_COLOR, lineWidth:1, tickWidth:1};
  new Chart(canvas, {
    type: 'scatter',
    data: {
      datasets: [
        {data: toPts(p.core), pointRadius: 1.9, pointHoverRadius: 1.9, borderWidth: 1, borderColor: POINT_COLOR, backgroundColor: 'rgba(0,0,0,0)'},
        {data: toPts(p.dense), pointRadius: 3.4, pointHoverRadius: 3.4, borderWidth: 2, borderColor: 'rgba(0,0,0,0.85)', backgroundColor: 'rgba(0,0,0,0.8)'},
        {data: toPts(p.out), pointRadius: 1.9, pointHoverRadius: 1.9, borderWidth: 0.9, borderColor: POINT_COLOR, backgroundColor: 'rgba(0,0,0,0)'}
      ]
    },
    options: {
      responsive: false,
      animation: false,
      devicePixelRatio: 1,
      events: [],
      layout: {padding: pad},
      plugins: {
        legend: {display: false},
        tooltip: {enabled: false},
        title: {display: true, text: p.title, fullSize: false, color: '#000',
                font: {family: FONT, size: TITLE_FONT, weight: 'bold', lineHeight: TITLE_LH},
                padding: {top: 0, bottom: TITLE_PAD_B}},
        r2label: {text: p.r2, dx: p.lab[0], dy: p.lab[1]}
      },
      scales: {
        x: {
          type: 'linear', position: 'bottom', min: p.xMin, max: p.xMax,
          afterBuildTicks: s => { s.ticks = p.xTicks.map(v => ({value: v})); },
          ticks: {display: false},
          grid: gridOpts,
          border: {display: false},
          title: {display: true, text: xAxisTitle, color: '#000',
                  font: {family: FONT, size: AXIS_FONT, lineHeight: AXIS_LH},
                  padding: {top: p.xTitlePad, bottom: 0}}
        },
        y: {
          type: 'linear', position: 'left', min: p.yMin, max: p.yMax,
          afterBuildTicks: s => { s.ticks = p.yTicks.map(v => ({value: v})); },
          ticks: {display: false},
          grid: gridOpts,
          border: {display: false},
          title: {display: true, text: yAxisTitle, color: '#000',
                  font: {family: FONT, size: AXIS_FONT, lineHeight: AXIS_LH},
                  padding: Y_TITLE_PAD}
        }
      }
    },
    plugins: [boxPlugin, r2Plugin]
  });
});
</script>
</body>
</html>
